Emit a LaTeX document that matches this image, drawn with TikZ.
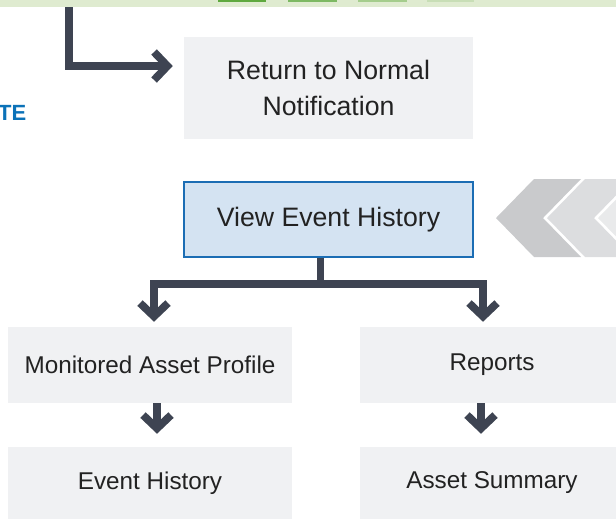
\documentclass[tikz,border=0pt]{standalone}
\usepackage{fontspec}
\setmainfont{Liberation Sans}
\usetikzlibrary{arrows.meta,calc}

\definecolor{bandclr}{HTML}{DFEBD0}
\definecolor{barA}{HTML}{5FA93F}
\definecolor{barB}{HTML}{7DB963}
\definecolor{barC}{HTML}{A5CD8D}
\definecolor{barD}{HTML}{C8DEB6}
\definecolor{lineclr}{HTML}{3E4452}
\definecolor{boxclr}{HTML}{F0F1F3}
\definecolor{viewfill}{HTML}{D4E3F2}
\definecolor{viewdraw}{HTML}{1B6DB4}
\definecolor{txtclr}{HTML}{222222}
\definecolor{tagclr}{HTML}{0B72B8}
\definecolor{chevA}{HTML}{C9CACC}
\definecolor{chevB}{HTML}{DCDDDF}
\definecolor{chevC}{HTML}{E9EAEB}

\tikzset{
  box/.style={fill=boxclr, inner sep=0pt, align=center, text=txtclr},
  bigtext/.style={font=\fontsize{20}{27}\selectfont},
  smalltext/.style={font=\fontsize{18.2}{24}\selectfont},
  conn/.style={draw=lineclr, line width=5.8pt, line join=miter,
    -{Straight Barb[length=10pt,width=21pt]}}
}

\begin{document}
\begin{tikzpicture}[x=0.75pt,y=0.75pt,yscale=-1,xscale=1]
        \clip (0,0) rectangle (616,519);
        \useasboundingbox (0,0) rectangle (616,519);

        %Shape: Chevrons
        \fill [chevC] (636,179) -- (683,179) -- (645,218) -- (683,257) -- (636,257) -- (598,218) -- cycle;
        \fill [chevB] (585,179) -- (632,179) -- (594,218) -- (632,257) -- (585,257) -- (547,218) -- cycle;
        \fill [chevA] (534,179) -- (581,179) -- (543,218) -- (581,257) -- (534,257) -- (496,218) -- cycle;

        % Text Node
        \node (ret) [box, bigtext, minimum width=216.75pt, minimum height=76.5pt] at (328.5,88) {Return to Normal\\Notification};
        % Text Node
        \node (view) [box, bigtext, fill=viewfill, draw=viewdraw, line width=1.9pt, minimum width=216.75pt, minimum height=56.25pt] at (328.5,219.5) {View Event History};
        % Text Node
        \node (mon) [box, smalltext, minimum width=213pt, minimum height=57pt] at (150,365) {Monitored Asset Profile};
        % Text Node
        \node (rep) [box, smalltext, minimum width=198pt, minimum height=57pt] at (492,365) {Reports};
        % Text Node
        \node (hist) [box, smalltext, minimum width=213pt, minimum height=54pt] at (150,483) {Event History};
        % Text Node
        \node (summ) [box, smalltext, minimum width=198pt, minimum height=54pt] at (492,483) {Asset Summary};
        % Text Node
        \node (tag) [anchor=base east, inner sep=0pt, text=tagclr, font=\fontsize{16.5}{20}\bfseries] at (26.5,120.5) {TE};

        \coordinate (src) at (69,0);

        %Straight Lines
        \draw [conn] (src) |- ($(ret.west)+(-11,-22)$);
        \draw [conn] ($(view.south)+(-8,0)$) -- ++(0,26) -| ($(mon.north)+(4,-5)$);
        \draw [conn] ($(view.south)+(-8,0)$) -- ++(0,26) -| ($(rep.north)+(-9,-5)$);
        \draw [conn] ($(mon.south)+(7,0)$) -- ($(hist.north)+(7,-13)$);
        \draw [conn] ($(rep.south)+(-11,0)$) -- ($(summ.north)+(-11,-13)$);

        %Shape: Top band
        \fill [bandclr] (0,0) rectangle (616,7);
        \fill [barA] (218,0) rectangle (266,2.3);
        \fill [barB] (288,0) rectangle (337,2.3);
        \fill [barC] (358,0) rectangle (407,2.3);
        \fill [barD] (427,0) rectangle (474,2.3);

\end{tikzpicture}
\end{document}
